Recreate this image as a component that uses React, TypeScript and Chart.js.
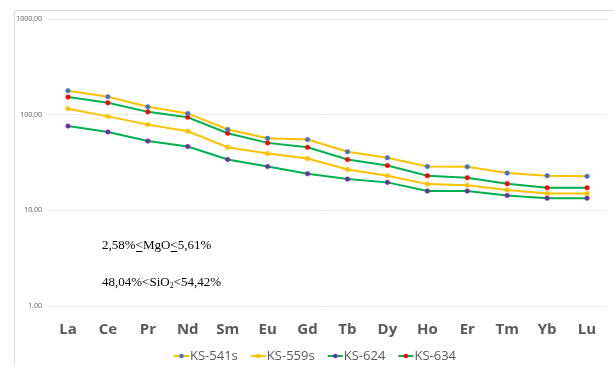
import React, { useEffect, useRef } from "react";
import { Chart, registerables } from "chart.js";

Chart.register(...registerables);

const categories = ["La", "Ce", "Pr", "Nd", "Sm", "Eu", "Gd", "Tb", "Dy", "Ho", "Er", "Tm", "Yb", "Lu"];
const seriesNames = ["KS-541s", "KS-559s", "KS-624", "KS-634"];
const ks541s = [178, 154, 121, 103, 70, 56.6, 55, 41, 35.4, 28.7, 28.5, 24.5, 23, 22.7];
const ks559s = [115.5, 96, 78.7, 67, 45.7, 39.2, 34.8, 26.7, 23, 18.8, 18.3, 16.3, 15, 15];
const ks624 = [76, 66, 53, 46.4, 34, 28.7, 24.1, 21.2, 19.6, 15.9, 15.9, 14.3, 13.4, 13.4];
const ks634 = [153, 133, 107, 94, 64, 50.7, 45.7, 34, 29.4, 23, 21.9, 19, 17.2, 17.2];
const yTicks = [1, 10, 100, 1000];
const annotation1 = [
  { text: "2,58%" },
  { text: "<", underline: true },
  { text: "MgO" },
  { text: "<", underline: true },
  { text: "5,61%" },
];
const annotation2 = [
  { text: "48,04%" },
  { text: "<" },
  { text: "SiO" },
  { text: "2", sub: true },
  { text: "<" },
  { text: "54,42%" },
];

const lineColors = ["#FFC000", "#FFC000", "#00B050", "#00B050"];
const pointColors = ["#4472C4", "#FFC000", "#7030A0", "#FF0000"];

function drawSegments(ctx: CanvasRenderingContext2D, x: number, y: number, segs: any[]) {
  let cx = x;
  for (const s of segs) {
    if (s.sub) {
      ctx.font = '8px "Liberation Serif"';
      ctx.fillText(s.text, cx, y + 2);
      cx += ctx.measureText(s.text).width;
      ctx.font = '13px "Liberation Serif"';
    } else {
      ctx.font = '13px "Liberation Serif"';
      const w = ctx.measureText(s.text).width;
      ctx.fillText(s.text, cx, y);
      if (s.underline) {
        ctx.fillRect(cx + 0.5, y + 2, w - 1, 1);
      }
      cx += w;
    }
  }
}

const decorPlugin = {
  id: "decor",
  beforeDraw(chart: any) {
    const ctx = chart.ctx;
    ctx.save();
    ctx.strokeStyle = "#D9D9D9";
    ctx.lineWidth = 1;
    ctx.beginPath();
    ctx.moveTo(14.5, 365);
    ctx.lineTo(14.5, 10.5);
    ctx.lineTo(614, 10.5);
    ctx.stroke();
    ctx.restore();
  },
  afterDraw(chart: any) {
    const ctx = chart.ctx;
    ctx.save();
    // annotations
    ctx.fillStyle = "#000000";
    ctx.textBaseline = "alphabetic";
    ctx.textAlign = "left";
    drawSegments(ctx, 102, 249, annotation1);
    drawSegments(ctx, 102, 286, annotation2);
    // legend
    ctx.font = '13px "Open Sans"';
    const widths = seriesNames.map((n) => ctx.measureText(n).width + 16);
    const total = 456 - 174;
    const sum = widths.reduce((a, b) => a + b, 0);
    const gap = (total - sum) / (seriesNames.length - 1);
    let x = 174;
    const yc = 356;
    ctx.textBaseline = "middle";
    seriesNames.forEach((name, i) => {
      ctx.strokeStyle = lineColors[i];
      ctx.lineWidth = 2;
      ctx.beginPath();
      ctx.moveTo(x, yc);
      ctx.lineTo(x + 15, yc);
      ctx.stroke();
      ctx.fillStyle = pointColors[i];
      ctx.beginPath();
      ctx.arc(x + 7.5, yc, 2.2, 0, Math.PI * 2);
      ctx.fill();
      ctx.fillStyle = "#595959";
      ctx.fillText(name, x + 16, yc);
      x += widths[i] + gap;
    });
    ctx.restore();
  },
};

export default function App() {
  const ref = useRef<HTMLCanvasElement | null>(null);
  useEffect(() => {
    if (!ref.current) return;
    const data = [ks541s, ks559s, ks624, ks634];
    const chart = new Chart(ref.current, {
      type: "line",
      data: {
        labels: categories,
        datasets: seriesNames.map((name, i) => ({
          label: name,
          data: data[i],
          borderColor: lineColors[i],
          backgroundColor: pointColors[i],
          pointBackgroundColor: pointColors[i],
          pointBorderColor: pointColors[i],
          pointRadius: 2.3,
          pointBorderWidth: 0.5,
          borderWidth: 2,
          tension: 0,
          fill: false,
        })),
      },
      options: {
        animation: false,
        responsive: false,
        maintainAspectRatio: false,
        layout: { padding: { top: 19, right: 7, bottom: 25, left: 0 } },
        plugins: {
          legend: { display: false },
          tooltip: { enabled: false },
        },
        scales: {
          x: {
            type: "category",
            offset: true,
            grid: { display: false, drawTicks: false },
            border: { display: false },
            ticks: {
              color: "#595959",
              font: { family: "Open Sans", size: 15, weight: "bold" },
              padding: 15,
              maxRotation: 0,
              autoSkip: false,
            },
            afterFit: (s: any) => {
              s.height = 34;
            },
          },
          y: {
            type: "logarithmic",
            min: 1,
            max: 1000,
            afterBuildTicks: (s: any) => {
              s.ticks = yTicks.map((v) => ({ value: v }));
            },
            afterFit: (s: any) => {
              s.width = 48;
            },
            grid: { color: "#EBEBEB", drawTicks: false, lineWidth: 1 },
            border: { display: false },
            ticks: {
              color: "#595959",
              font: { family: "Open Sans", size: 7 },
              padding: 6,
              callback: (v: any) => Number(v).toFixed(2).replace(".", ","),
            },
          },
        },
      },
      plugins: [decorPlugin],
    });
    return () => chart.destroy();
  }, []);
  return (
    <div style={{ position: "fixed", left: 0, top: 0, width: 614, height: 365, background: "#fff" }}>
      <canvas ref={ref} width={614} height={365} style={{ display: "block" }} />
    </div>
  );
}
